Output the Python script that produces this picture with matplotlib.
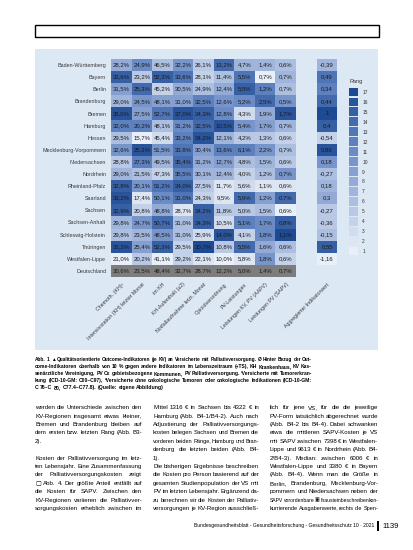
import numpy as np
import matplotlib
matplotlib.use("Agg")
import matplotlib.pyplot as plt
from matplotlib.colors import LinearSegmentedColormap, BoundaryNorm
from matplotlib.patches import Rectangle

plt.rcParams["font.family"] = ["Liberation Sans", "DejaVu Sans"]

W, H = 413, 550
body_size, cap_size = 4.4, 3.7

regions = ["Baden-Württemberg", "Bayern", "Berlin", "Brandenburg", "Bremen", "Hamburg",
           "Hessen", "Mecklenburg-Vorpommern", "Niedersachsen", "Nordrhein",
           "Rheinland-Pfalz", "Saarland", "Sachsen", "Sachsen-Anhalt",
           "Schleswig-Holstein", "Thüringen", "Westfalen-Lippe", "Deutschland"]

indicators = ["Chemoth. (KH)¹", "Intensivstation (KH) letzter Monat", "im KH",
              "KH-Aufenthalt (≥2)", "Notfallaufnahme letzt. Monat", "Opioidverordnung",
              "PV-Leistungen", "Leistungen KV, PV (AAPV)", "Leistungen PV (SAPV)"]
agg_label = "Aggregierter Indikatorwert"

# percentages shown in the cells (last row = Deutschland)
values = np.array([
    [28.2, 24.9, 46.5, 32.2, 26.1, 13.2, 4.7, 1.4, 0.6],
    [33.6, 23.2, 52.3, 33.6, 28.1, 11.4, 5.5, 0.7, 0.7],
    [31.5, 25.3, 45.2, 30.5, 24.9, 12.4, 5.5, 1.2, 0.7],
    [29.0, 24.5, 48.1, 31.0, 32.5, 12.6, 5.2, 2.5, 0.5],
    [35.0, 27.5, 52.7, 37.0, 34.3, 12.8, 4.3, 1.9, 1.7],
    [32.0, 20.2, 48.1, 31.2, 32.5, 10.5, 5.4, 1.7, 0.7],
    [29.5, 15.7, 45.4, 33.2, 34.2, 12.1, 4.2, 1.3, 0.6],
    [32.6, 25.3, 51.5, 33.8, 30.4, 13.6, 6.1, 2.2, 0.7],
    [28.8, 27.3, 49.5, 35.4, 31.2, 12.7, 4.8, 1.5, 0.6],
    [29.0, 21.5, 47.3, 35.5, 30.1, 12.4, 4.0, 1.2, 0.7],
    [32.8, 20.1, 51.2, 34.0, 27.5, 11.7, 5.6, 1.1, 0.6],
    [33.2, 17.4, 50.1, 31.0, 24.3, 9.5, 5.9, 1.2, 0.7],
    [32.9, 20.8, 48.8, 28.7, 34.2, 11.8, 5.0, 1.5, 0.6],
    [29.8, 24.7, 50.7, 31.0, 34.3, 10.5, 5.1, 1.7, 0.8],
    [29.8, 23.5, 48.5, 31.0, 25.9, 14.0, 4.1, 1.8, 1.1],
    [33.2, 25.4, 52.3, 29.5, 30.7, 10.8, 5.5, 1.6, 0.6],
    [21.0, 20.2, 41.1, 29.2, 22.1, 10.0, 5.8, 1.8, 0.6],
    [30.6, 23.5, 48.4, 32.7, 28.7, 12.2, 5.0, 1.4, 0.7],
])

# rank (1-17) that sets the colour of each cell
ranks = np.array([
    [8, 11, 6, 10, 5, 14, 7, 7, 6],
    [15, 5, 15, 13, 4, 6, 13, 1, 7],
    [9, 14, 4, 8, 6, 8, 15, 12, 6],
    [7, 10, 9, 9, 12, 10, 11, 14, 10],
    [16, 9, 13, 16, 15, 11, 3, 8, 16],
    [12, 12, 6, 11, 14, 16, 10, 9, 7],
    [6, 1, 3, 12, 16, 7, 5, 5, 4],
    [10, 16, 10, 13, 9, 12, 12, 10, 6],
    [5, 12, 7, 14, 8, 9, 6, 7, 5],
    [7, 6, 4, 12, 7, 7, 4, 6, 10],
    [15, 10, 13, 15, 5, 2, 3, 2, 2],
    [16, 2, 11, 13, 4, 2, 14, 9, 14],
    [15, 4, 8, 2, 15, 5, 5, 6, 1],
    [7, 10, 14, 6, 15, 3, 12, 11, 15],
    [6, 7, 10, 6, 3, 16, 4, 11, 17],
    [16, 9, 15, 4, 17, 5, 14, 8, 6],
    [1, 5, 1, 4, 2, 1, 2, 10, 4],
], dtype=float)

agg_values = [-0.39, 0.49, 0.34, 0.44, 1.0, 0.4, -0.54, 0.86, 0.18, -0.27,
              0.18, 0.30, -0.27, -0.36, -0.15, 0.55, -1.16]
agg_ranks = [7, 13, 12, 14, 17, 15, 4, 16, 10, 6, 7, 8, 5, 5, 6, 15, 1]

caption = [
    "Abb. 1 ▲ Qualitätsorientierte Outcome-Indikatoren (je KV) an Versicherte mit Palliativversorgung. Ø Hinter Bezug der Out-",
    "come-Indikatoren oberhalb von 10 % gegen andere Indikatoren im Lebenszeitraum (+TS), KH Krankenhaus, KV Kas-",
    "senärztliche Vereinigung, PV Cx gebietsbezogene Kommunen, PV Palliativversorgung. ¹Versicherte mit Tumorerkran-",
    "kung (ICD-10-GM: C00–C97), ²Versicherte ohne onkologische Tumoren oder onkologische Indikationen (ICD-10-GM:",
    "C 76–C 80, C77.4–C77.8). (Quelle: eigene Abbildung)",
]

col1 = [
    "werden die Unterschiede zwischen den",
    "KV-Regionen insgesamt etwas kleiner,",
    "Bremen und Brandenburg bleiben auf",
    "dem ersten bzw. letzten Rang (Abb. B3-",
    "2).",
    "",
    "Kosten der Palliativversorgung im letz-",
    "ten Lebensjahr. Eine Zusammenfassung",
    "der Palliativversorgungskosten zeigt",
    "▢ Abb. 4. Der größte Anteil entfällt auf",
    "die Kosten für SAPV. Zwischen den",
    "KV-Regionen variieren die Palliativver-",
    "sorgungskosten erheblich zwischen im",
]
col2 = [
    "Mittel 1316 € in Sachsen bis 4322 € in",
    "Hamburg (Abb. B4-1/B4-2). Auch nach",
    "Adjustierung der Palliativversorgungs-",
    "kosten belegen Sachsen und Bremen die",
    "vorderen beiden Ränge, Hamburg und Bran-",
    "denburg die letzten beiden (Abb. B4-",
    "1).",
    "    Die bisherigen Ergebnisse beschreiben",
    "die Kosten pro Person basierend auf der",
    "gesamten Studienpopulation der VS mit",
    "PV im letzten Lebensjahr. Ergänzend da-",
    "zu berechnen wir die Kosten der Palliativ-",
    "versorgungen je KV-Region ausschließ-",
]
col3 = [
    "lich für jene VS, für die die jeweilige",
    "PV-Form tatsächlich abgerechnet wurde",
    "(Abb. B4-2 bis B4-4). Dabei schwanken",
    "etwa die mittleren SAPV-Kosten je VS",
    "mit SAPV zwischen 7398 € in Westfalen-",
    "Lippe und 9613 € in Nordrhein (Abb. B4-",
    "2/B4-3). Median: zwischen 6006 € in",
    "Westfalen-Lippe und 3380 € in Bayern",
    "(Abb. B4-4). Wenn man die Größe in",
    "Berlin, Brandenburg, Mecklenburg-Vor-",
    "pommern und Niedersachsen neben der",
    "SAPV vorordenbare ▣ Ihausteinbeschreiben kon-",
    "kurrierende Ausgabenwerte, rechts die Spen-",
]
footer = "Bundesgesundheitsblatt - Gesundheitsforschung - Gesundheitsschutz 10 · 2021"
page_no = "1139"


def fmt_pct(v):
    return f"{v:.1f}%".replace(".", ",")


def fmt_num(v):
    s = f"{v:.2f}".rstrip("0").rstrip(".")
    return s.replace(".", ",")


def px_axes(fig, x0, y0, x1, y1):
    return fig.add_axes([x0 / W, 1 - y1 / H, (x1 - x0) / W, (y1 - y0) / H])


fig = plt.figure(figsize=(W / 100, H / 100), dpi=100)
fig.patch.set_facecolor("white")

# page elements: empty frame and the light blue figure panel
fig.patches.append(Rectangle((35 / W, 1 - 37 / H), 344 / W, 12 / H, transform=fig.transFigure,
                             fill=False, edgecolor="black", lw=1.0, zorder=-1))
fig.patches.append(Rectangle((35 / W, 1 - 350 / H), 343 / W, 301 / H, transform=fig.transFigure,
                             facecolor="#dde8f5", edgecolor="none", zorder=-1))

cmap = LinearSegmentedColormap.from_list("rang", ["#e9eff8", "#a9bcdf", "#6284c2", "#1c4a93"], N=17)
cmap.set_bad("#7d7d7d")
norm = BoundaryNorm(np.arange(0.5, 18.5, 1), cmap.N)

# main heatmap
ax = px_axes(fig, 111, 59, 296, 277)
grid = np.vstack([ranks, np.full((1, ranks.shape[1]), np.nan)])
ax.imshow(np.ma.masked_invalid(grid), cmap=cmap, norm=norm, aspect="auto", interpolation="nearest")
for i in range(values.shape[0]):
    for j in range(values.shape[1]):
        ax.text(j, i, fmt_pct(values[i, j]), ha="center", va="center", fontsize=4.3, color="#1a1a1a")
ax.set_yticks(range(len(regions)))
ax.set_yticklabels(regions, fontsize=3.9, color="#3a3a3a")
ax.set_xticks(range(len(indicators)))
ax.set_xticklabels(indicators, fontsize=3.8, rotation=45, ha="right", rotation_mode="anchor", color="#3a3a3a")
ax.tick_params(length=0, pad=3.5)
for s in ax.spines.values():
    s.set_visible(False)

# aggregated column
ax2 = px_axes(fig, 317, 59, 337, 277)
agg_grid = np.append(np.array(agg_ranks, dtype=float), np.nan).reshape(-1, 1)
cmap2 = cmap.copy()
cmap2.set_bad((0, 0, 0, 0))
ax2.imshow(np.ma.masked_invalid(agg_grid), cmap=cmap2, norm=norm, aspect="auto", interpolation="nearest")
for i, v in enumerate(agg_values):
    ax2.text(0, i, fmt_num(v), ha="center", va="center", fontsize=4.3, color="#1a1a1a")
ax2.set_yticks([])
ax2.set_xticks([0])
ax2.set_xticklabels([agg_label], fontsize=3.8, rotation=45, ha="right", rotation_mode="anchor", color="#3a3a3a")
ax2.tick_params(length=0, pad=3.5)
ax2.patch.set_alpha(0)
for s in ax2.spines.values():
    s.set_visible(False)

# discrete colour legend
levels = np.arange(1, 18)
cax = px_axes(fig, 349, 87, 358, 256)
cax.barh(levels, 1, height=0.88, color=cmap(norm(levels)))
cax.set_ylim(0.5, 17.5)
cax.set_xlim(0, 1)
cax.yaxis.tick_right()
cax.set_yticks(levels)
cax.set_yticklabels([str(v) for v in levels], fontsize=3.5, color="#333333")
cax.set_xticks([])
cax.tick_params(length=0, pad=3)
cax.patch.set_alpha(0)
for s in cax.spines.values():
    s.set_visible(False)
fig.text(349 / W, 1 - 82 / H, "Rang", fontsize=4, color="#333333", ha="left", va="center")

renderer = fig.canvas.get_renderer()


def put_line(text, x0, x1, y, size, weight="normal", justify=True):
    words = text.split()
    if not words:
        return
    yb = 1 - (y + size * 0.5) / H
    objs = [fig.text(0, yb, w, fontsize=size, fontweight=weight, ha="left", va="baseline") for w in words]
    widths = [o.get_window_extent(renderer).width for o in objs]
    min_gap = 1.2
    need = sum(widths) + min_gap * (len(words) - 1)
    if need > x1 - x0:
        # too long for the column: shrink the line until it fits
        scale = (x1 - x0) / need
        for o in objs:
            o.set_fontsize(size * scale)
        widths = [w * scale for w in widths]
    if justify and len(words) > 1:
        gap = (x1 - x0 - sum(widths)) / (len(words) - 1)
    else:
        gap = objs[0].get_fontsize() * 0.38
    x = x0
    for o, w in zip(objs, widths):
        o.set_x(x / W)
        x += w + gap


for k, line in enumerate(caption):
    put_line(line, 35, 312, 359 + 7 * k, cap_size, weight="bold", justify=k < len(caption) - 1)

for lines, (x0, x1) in [(col1, (35, 142)), (col2, (153, 259)), (col3, (270, 378))]:
    for k, line in enumerate(lines):
        ends_par = k + 1 < len(lines) and (lines[k + 1] == "" or line.strip() in ("2).", "1)."))
        put_line(line, x0, x1, 407 + 8.4 * k, body_size, justify=not ends_par)

fig.text(374 / W, 1 - 526 / H, footer, fontsize=3.6, ha="right", va="center")
fig.patches.append(Rectangle((377 / W, 1 - 531 / H), 2 / W, 10 / H, transform=fig.transFigure,
                             facecolor="black", edgecolor="none"))
fig.text(382 / W, 1 - 526 / H, page_no, fontsize=5.5, ha="left", va="center")

fig.savefig("out.png", dpi=100)
